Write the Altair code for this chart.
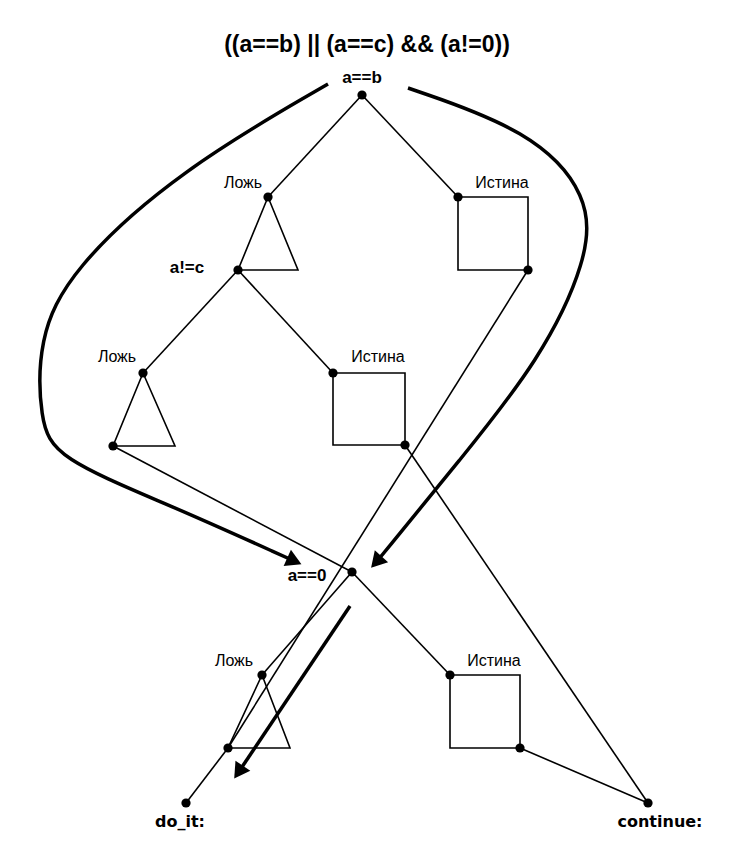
import pandas as pd
import altair as alt

# ── diagram data (pixel space of the reference) ──────────────────────────────
# thin polylines: id, list of points
THIN = {
    'A_false':   [(362, 95), (268, 197)],
    'A_true':    [(362, 95), (458, 197)],
    'tri1':      [(268, 197), (238, 270), (298, 270), (268, 197)],
    'sq1':       [(458, 197), (528, 197), (528, 270), (458, 270), (458, 197)],
    'C_false':   [(238, 270), (143, 373)],
    'C_true':    [(238, 270), (333, 373)],
    'tri2':      [(143, 373), (113, 446), (175, 446), (143, 373)],
    'sq2':       [(333, 373), (405, 373), (405, 445), (333, 445), (333, 373)],
    'to_B':      [(113, 446), (352, 572)],
    'sq1_out':   [(528, 270), (228, 748)],
    'sq2_out':   [(405, 445), (648, 803)],
    'B_false':   [(352, 572), (262, 675)],
    'B_true':    [(352, 572), (450, 675)],
    'tri3':      [(262, 675), (228, 748), (290, 748), (262, 675)],
    'sq3':       [(450, 675), (520, 675), (520, 748), (450, 748), (450, 675)],
    'sq3_out':   [(520, 748), (648, 803)],
    'to_do':     [(228, 748), (186, 803)],
}

# thick curved arrows
THICK = {
    'left':   [(328, 84), (180, 170), (70, 270), (38, 340), (40, 420), (55, 458), (170, 505), (292, 560)],
    'right':  [(408, 88), (530, 130), (590, 195), (588, 260), (540, 360), (460, 460), (378, 560)],
    'bottom': [(350, 606), (240, 770)],
}
HEAD_X = [292, 378, 240]
HEAD_Y = [560, 560, 770]
HEAD_ANGLE = [114, 222, 214]

DOT_X = [362, 268, 458, 528, 238, 143, 113, 333, 405, 352, 262, 228, 450, 520, 186, 648]
DOT_Y = [95, 197, 197, 270, 270, 373, 446, 373, 445, 572, 675, 748, 675, 748, 803, 803]

LABEL_TEXT = ['Ложь', 'Истина', 'Ложь', 'Истина', 'Ложь', 'Истина']
LABEL_X = [243, 502, 117, 378, 234, 494]
LABEL_Y = [183, 183, 357, 357, 661, 661]

BOLD_TEXT = ['a==b', 'a!=c', 'a==0']
BOLD_X = [362, 187, 307]
BOLD_Y = [78, 268, 576]

END_TEXT = ['do_it:', 'continue:']
END_X = [180, 660]
END_Y = [822, 822]

TITLE = '((a==b) || (a==c) && (a!=0))'


def to_frame(paths):
    rows = []
    for pid, pts in paths.items():
        for i, (x, y) in enumerate(pts):
            rows.append({'id': pid, 'order': i, 'x': x, 'y': y})
    return pd.DataFrame(rows)


X = alt.X('x:Q', scale=alt.Scale(domain=[8, 747]), axis=None)
Y = alt.Y('y:Q', scale=alt.Scale(domain=[833, 8]), axis=None)

thin = alt.Chart(to_frame(THIN)).mark_line(color='black', strokeWidth=1.6).encode(
    x=X, y=Y, detail='id:N', order='order:Q')

thick = alt.Chart(to_frame(THICK)).mark_line(
    color='black', strokeWidth=3.5, interpolate='basis').encode(
    x=X, y=Y, detail='id:N', order='order:Q')

heads = alt.Chart(pd.DataFrame({'x': HEAD_X, 'y': HEAD_Y, 'a': HEAD_ANGLE})).mark_point(
    shape='triangle', filled=True, color='black', opacity=1, size=320).encode(
    x=X, y=Y, angle=alt.Angle('a:Q', scale=None))

dots = alt.Chart(pd.DataFrame({'x': DOT_X, 'y': DOT_Y})).mark_circle(
    color='black', opacity=1, size=85).encode(x=X, y=Y)

labels = alt.Chart(pd.DataFrame({'x': LABEL_X, 'y': LABEL_Y, 't': LABEL_TEXT})).mark_text(
    font='Liberation Sans', fontSize=16, color='black').encode(x=X, y=Y, text='t:N')

bold = alt.Chart(pd.DataFrame({'x': BOLD_X, 'y': BOLD_Y, 't': BOLD_TEXT})).mark_text(
    font='Liberation Sans', fontSize=17, fontWeight='bold', color='black').encode(x=X, y=Y, text='t:N')

ends = alt.Chart(pd.DataFrame({'x': END_X, 'y': END_Y, 't': END_TEXT})).mark_text(
    font='DejaVu Sans', fontSize=16, fontWeight='bold', color='black').encode(x=X, y=Y, text='t:N')

title = alt.Chart(pd.DataFrame({'x': [367], 'y': [45], 't': [TITLE]})).mark_text(
    font='Liberation Sans', fontSize=23, fontWeight='bold', color='black').encode(x=X, y=Y, text='t:N')

chart = (thin + thick + heads + dots + labels + bold + ends + title).properties(
    width=739, height=825, padding=0, autosize=alt.AutoSizeParams(type='none'),
).configure_view(stroke=None)

chart.save("out.html", embed_options={"renderer": "svg", "actions": False})
